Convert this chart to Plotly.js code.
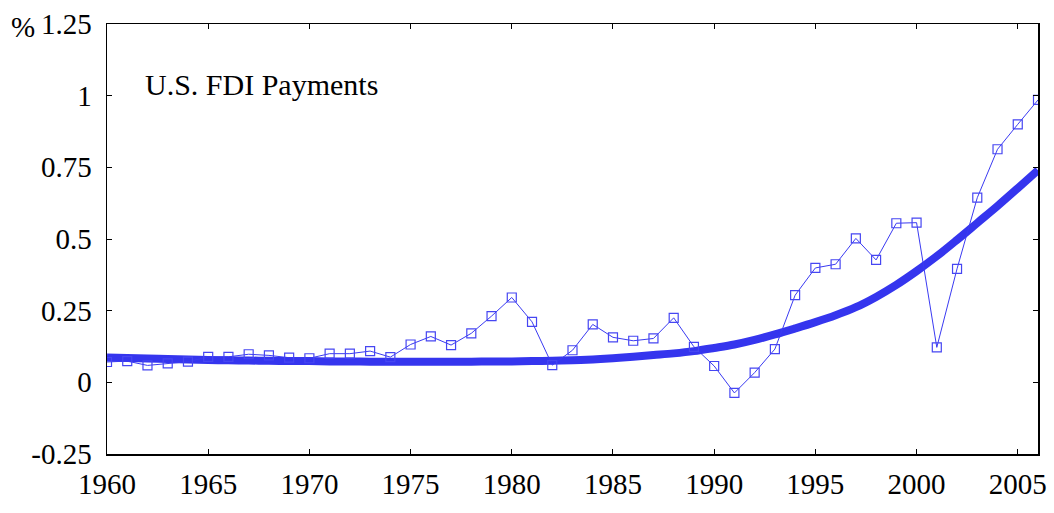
<!DOCTYPE html>
<html>
<head>
<meta charset="utf-8">
<script src="https://cdn.plot.ly/plotly-3.0.1.min.js"></script>
<style>html,body{margin:0;padding:0;background:#fff;}#chart{width:1054px;height:513px;}</style>
</head>
<body>
<div id="chart"></div>
<script>
const years = [1960,1961,1962,1963,1964,1965,1966,1967,1968,1969,1970,1971,1972,1973,1974,1975,1976,1977,1978,1979,1980,1981,1982,1983,1984,1985,1986,1987,1988,1989,1990,1991,1992,1993,1994,1995,1996,1997,1998,1999,2000,2001,2002,2003,2004,2005,2006];
const payments = [0.071,0.074,0.059,0.066,0.072,0.089,0.089,0.098,0.094,0.086,0.084,0.100,0.100,0.109,0.088,0.132,0.160,0.130,0.171,0.231,0.296,0.211,0.060,0.112,0.202,0.157,0.145,0.153,0.225,0.124,0.057,-0.037,0.034,0.116,0.304,0.399,0.412,0.502,0.427,0.555,0.557,0.122,0.396,0.644,0.813,0.900,0.985];
const trend = [0.087,0.085,0.083,0.081,0.080,0.078,0.077,0.076,0.075,0.074,0.074,0.073,0.073,0.072,0.072,0.072,0.072,0.072,0.072,0.073,0.073,0.074,0.075,0.077,0.080,0.084,0.089,0.095,0.101,0.109,0.120,0.132,0.148,0.167,0.188,0.210,0.234,0.262,0.298,0.340,0.388,0.440,0.497,0.556,0.615,0.677,0.740];
const xTicks = [1960,1965,1970,1975,1980,1985,1990,1995,2000,2005];
const yTicks = [-0.25,0,0.25,0.5,0.75,1,1.25];
const yTickLabels = ['-0.25','0','0.25','0.5','0.75','1','1.25'];
const seriesTitle = 'U.S. FDI Payments';
const unitLabel = '%';

const FONT = "'Liberation Serif', 'Times New Roman', Times, serif";
const traces = [
  {x: years, y: trend, type: 'scatter', mode: 'lines',
   line: {color: '#3535ee', width: 8, shape: 'spline', smoothing: 1}, hoverinfo: 'skip'},
  {x: years, y: payments, type: 'scatter', mode: 'lines+markers',
   line: {color: '#3a3af2', width: 1},
   marker: {symbol: 'square-open', size: 9, color: '#4646f2', line: {width: 1.2}}}
];
const axisCommon = {showgrid: false, zeroline: false, showline: true, linecolor: '#000', linewidth: 1.5,
  mirror: 'ticks', ticks: 'inside', ticklen: 5, tickcolor: '#000', tickwidth: 1,
  tickfont: {family: FONT, size: 29, color: '#000'}};
const layout = {
  width: 1054, height: 513,
  margin: {l: 107, r: 16, t: 24, b: 59},
  paper_bgcolor: '#fff', plot_bgcolor: '#fff',
  showlegend: false,
  xaxis: Object.assign({}, axisCommon, {range: [1960, 2006], tickvals: xTicks, ticktext: xTicks.map(String), ticklabelstandoff: 4}),
  yaxis: Object.assign({}, axisCommon, {range: [-0.25, 1.25], tickvals: yTicks, ticktext: yTickLabels, ticklabelstandoff: 8}),
  annotations: [
    {text: seriesTitle, xref: 'paper', yref: 'paper', x: 0.039, y: 0.86, xanchor: 'left', yanchor: 'middle',
     showarrow: false, font: {family: FONT, size: 30, color: '#000'}},
    {text: unitLabel, xref: 'paper', yref: 'paper', x: -0.105, y: 0.993, xanchor: 'left', yanchor: 'middle',
     showarrow: false, font: {family: FONT, size: 29, color: '#000'}}
  ]
};
Plotly.newPlot('chart', traces, layout, {staticPlot: true});
</script>
</body>
</html>
